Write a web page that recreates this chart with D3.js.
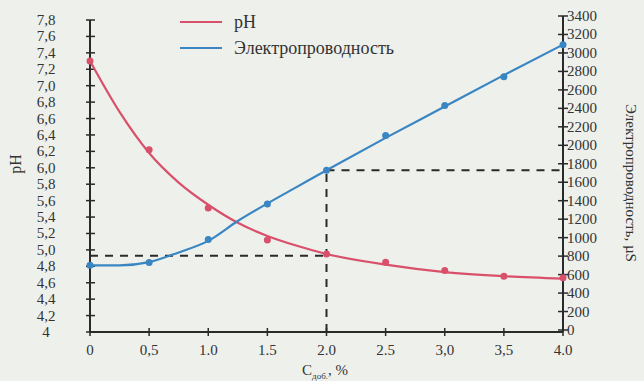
<!DOCTYPE html>
<html>
<head>
<meta charset="utf-8">
<script src="https://cdn.jsdelivr.net/npm/d3@7"></script>
<style>
  body { margin: 0; background: #eef0ec; }
  text { font-family: "Liberation Serif", "DejaVu Serif", serif; }
</style>
</head>
<body>
<div id="chart"></div>
<script>
// measured points
var conc = [0, 0.5, 1.0, 1.5, 2.0, 2.5, 3.0, 3.5, 4.0];
var phPoints = [7.30, 6.22, 5.51, 5.12, 4.95, 4.85, 4.75, 4.68, 4.66];
var condPoints = [700, 730, 980, 1365, 1730, 2106, 2430, 2743, 3088];

// trend lines
var fitX = [0, 0.25, 0.5, 0.75, 1.0, 1.25, 1.5, 1.75, 2.0, 2.5, 3.0, 3.5, 4.0];
var phFit = [7.30, 6.68, 6.18, 5.82, 5.55, 5.33, 5.17, 5.05, 4.95, 4.82, 4.73, 4.68, 4.65];
var condFit = [700, 700, 735, 840, 965, 1180, 1370, 1550, 1730, 2080, 2420, 2760, 3090];

var xTicks = [0, 0.5, 1.0, 1.5, 2.0, 2.5, 3.0, 3.5, 4.0];
var xTickLabels = ["0", "0,5", "1.0", "1.5", "2.0", "2.5", "3,0", "3,5", "4.0"];
var phTicks = d3.range(0, 20).map(function(i) { return +(4 + i * 0.2).toFixed(1); });
var condTicks = d3.range(0, 3401, 200);

var width = 644, height = 381;
var svg = d3.select("#chart").append("svg").attr("width", width).attr("height", height)
  .attr("font-family", "'Liberation Serif', 'DejaVu Serif', serif");

var x = d3.scaleLinear().domain([0, 4]).range([90, 563]);
var yPh = d3.scaleLinear().domain([4, 7.8]).range([332, 20]);
var yCond = d3.scaleLinear().domain([0, 3400]).range([330, 16]);

var ink = "#2a2a2a";
var red = "#d9506b";
var blue = "#3a86c2";

// axes lines
svg.append("line").attr("x1", 90).attr("x2", 90).attr("y1", yPh(7.8)).attr("y2", 332)
  .attr("stroke", ink).attr("stroke-width", 2);
svg.append("line").attr("x1", 563).attr("x2", 563).attr("y1", yCond(3400)).attr("y2", 332)
  .attr("stroke", ink).attr("stroke-width", 2);
svg.append("line").attr("x1", 90).attr("x2", 563).attr("y1", 332).attr("y2", 332)
  .attr("stroke", ink).attr("stroke-width", 2);

// left ticks
svg.selectAll("line.ltick").data(phTicks).enter().append("line")
  .attr("x1", 86).attr("x2", 95)
  .attr("y1", function(d) { return yPh(d); }).attr("y2", function(d) { return yPh(d); })
  .attr("stroke", ink).attr("stroke-width", 1.5);
svg.selectAll("text.ltick").data(phTicks).enter().append("text")
  .attr("x", 46).attr("y", function(d) { return yPh(d) + 5; })
  .attr("text-anchor", "middle").attr("font-size", "15px").attr("fill", "#333")
  .text(function(d) { return d == 4 ? "4" : d.toFixed(1).replace(".", ","); });

// right ticks
svg.selectAll("line.rtick").data(condTicks).enter().append("line")
  .attr("x1", 558).attr("x2", 568)
  .attr("y1", function(d) { return yCond(d); }).attr("y2", function(d) { return yCond(d); })
  .attr("stroke", ink).attr("stroke-width", 1.5);
svg.selectAll("text.rtick").data(condTicks).enter().append("text")
  .attr("x", 567).attr("y", function(d) { return yCond(d) + 5; })
  .attr("font-size", "15px").attr("fill", "#333")
  .text(function(d) { return d; });

// x ticks
svg.selectAll("line.xtick").data(xTicks).enter().append("line")
  .attr("x1", function(d) { return x(d); }).attr("x2", function(d) { return x(d); })
  .attr("y1", 328).attr("y2", 336)
  .attr("stroke", ink).attr("stroke-width", 1.5);
svg.selectAll("text.xtick").data(xTicks).enter().append("text")
  .attr("x", function(d) { return x(d); }).attr("y", 355)
  .attr("text-anchor", "middle").attr("font-size", "15px").attr("fill", "#333")
  .text(function(d, i) { return xTickLabels[i]; });

// dashed guide lines at 2.0 %
var dash = "8,7";
svg.append("line").attr("x1", x(2)).attr("x2", x(2)).attr("y1", 332).attr("y2", yCond(1730))
  .attr("stroke", ink).attr("stroke-width", 2).attr("stroke-dasharray", dash);
svg.append("line").attr("x1", 90).attr("x2", x(2)).attr("y1", yPh(4.93)).attr("y2", yPh(4.93))
  .attr("stroke", ink).attr("stroke-width", 2).attr("stroke-dasharray", dash);
svg.append("line").attr("x1", x(2)).attr("x2", 563).attr("y1", yCond(1730)).attr("y2", yCond(1730))
  .attr("stroke", ink).attr("stroke-width", 2).attr("stroke-dasharray", dash);

// trend lines
var phLine = d3.line().curve(d3.curveMonotoneX)
  .x(function(d, i) { return x(fitX[i]); })
  .y(function(d) { return yPh(d); });
var condLine = d3.line().curve(d3.curveMonotoneX)
  .x(function(d, i) { return x(fitX[i]); })
  .y(function(d) { return yCond(d); });

svg.append("path").attr("d", phLine(phFit)).attr("fill", "none")
  .attr("stroke", red).attr("stroke-width", 2.2);
svg.append("path").attr("d", condLine(condFit)).attr("fill", "none")
  .attr("stroke", blue).attr("stroke-width", 2.2);

// points
svg.selectAll("circle.ph").data(phPoints).enter().append("circle")
  .attr("cx", function(d, i) { return x(conc[i]); })
  .attr("cy", function(d) { return yPh(d); })
  .attr("r", 3.5).attr("fill", red);
svg.selectAll("circle.cond").data(condPoints).enter().append("circle")
  .attr("cx", function(d, i) { return x(conc[i]); })
  .attr("cy", function(d) { return yCond(d); })
  .attr("r", 3.5).attr("fill", blue);

// legend
svg.append("line").attr("x1", 180).attr("x2", 222).attr("y1", 22).attr("y2", 22)
  .attr("stroke", red).attr("stroke-width", 2.2);
svg.append("text").attr("x", 234).attr("y", 28).attr("font-size", "18px").attr("fill", "#333").text("pH");
svg.append("line").attr("x1", 180).attr("x2", 222).attr("y1", 48).attr("y2", 48)
  .attr("stroke", blue).attr("stroke-width", 2.2);
svg.append("text").attr("x", 234).attr("y", 54).attr("font-size", "18px").attr("fill", "#333").text("Электропроводность");

// axis titles
svg.append("text").attr("transform", "translate(21,164) rotate(-90)")
  .attr("text-anchor", "middle").attr("font-size", "16px").attr("fill", "#333").text("pH");
svg.append("text").attr("transform", "translate(626,183) rotate(90)")
  .attr("text-anchor", "middle").attr("font-size", "15px").attr("fill", "#333").text("Электропроводность, µS");

var xl = svg.append("text").attr("x", 325).attr("y", 375).attr("text-anchor", "middle")
  .attr("font-size", "15px").attr("fill", "#333");
xl.append("tspan").text("C");
xl.append("tspan").attr("dy", 4).attr("font-size", "9px").text("доб.");
xl.append("tspan").attr("dy", -4).text(", %");
</script>
</body>
</html>
